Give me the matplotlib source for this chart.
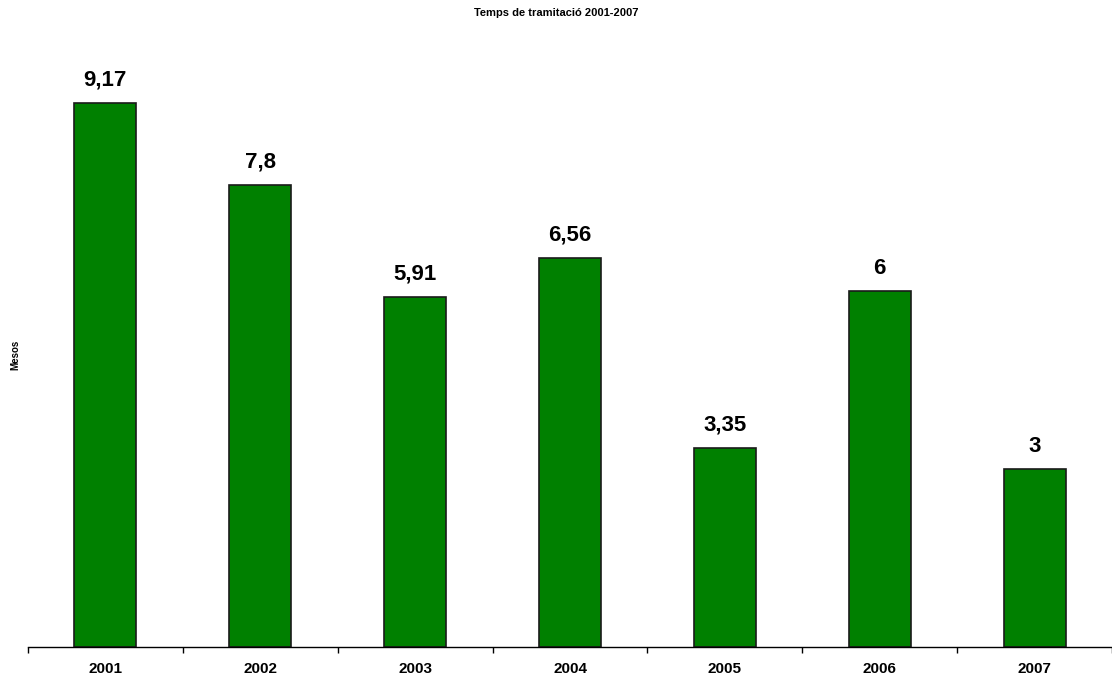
import matplotlib.pyplot as plt

years = ['2001', '2002', '2003', '2004', '2005', '2006', '2007']
mesos = [9.17, 7.8, 5.91, 6.56, 3.35, 6, 3]
labels = ['9,17', '7,8', '5,91', '6,56', '3,35', '6', '3']

plt.rcParams['font.family'] = ['Liberation Sans', 'DejaVu Sans']

fig = plt.figure(figsize=(11.12, 6.79), dpi=100)
ax = fig.add_axes([28 / 1112, 32 / 679, 1 - 28 / 1112, 0.873])

x = range(len(years))
bars = ax.bar(x, mesos, width=0.4, color='#008000', edgecolor='#1a1a1a', linewidth=1.2)

for b, lab in zip(bars, labels):
    ax.annotate(lab, (b.get_x() + b.get_width() / 2, b.get_height()),
                xytext=(0, 9), textcoords='offset points',
                ha='center', va='bottom', fontsize=16, fontweight='bold')

ax.set_xlim(-0.5, len(years) - 0.5)
ax.set_ylim(0, 10)
ax.set_xticks([i - 0.5 for i in range(len(years) + 1)])
ax.set_xticklabels([])
ax.set_xticks(list(x), minor=True)
ax.set_xticklabels(years, minor=True, fontsize=11, fontweight='bold')
ax.tick_params(axis='x', which='major', length=4, width=1, direction='out')
ax.tick_params(axis='x', which='minor', length=0, pad=11)
ax.set_yticks([])
for s in ['top', 'right', 'left']:
    ax.spines[s].set_visible(False)
ax.spines['bottom'].set_linewidth(1)

fig.text(0.5, 1 - 13 / 679, 'Temps de tramitació 2001-2007', ha='center', va='center',
         fontsize=8, fontweight='bold')
fig.text(15 / 1112, 1 - 355 / 679, 'Mesos', rotation=90, ha='center', va='center',
         fontsize=7, fontweight='bold')

fig.savefig('out.png', dpi=100)
